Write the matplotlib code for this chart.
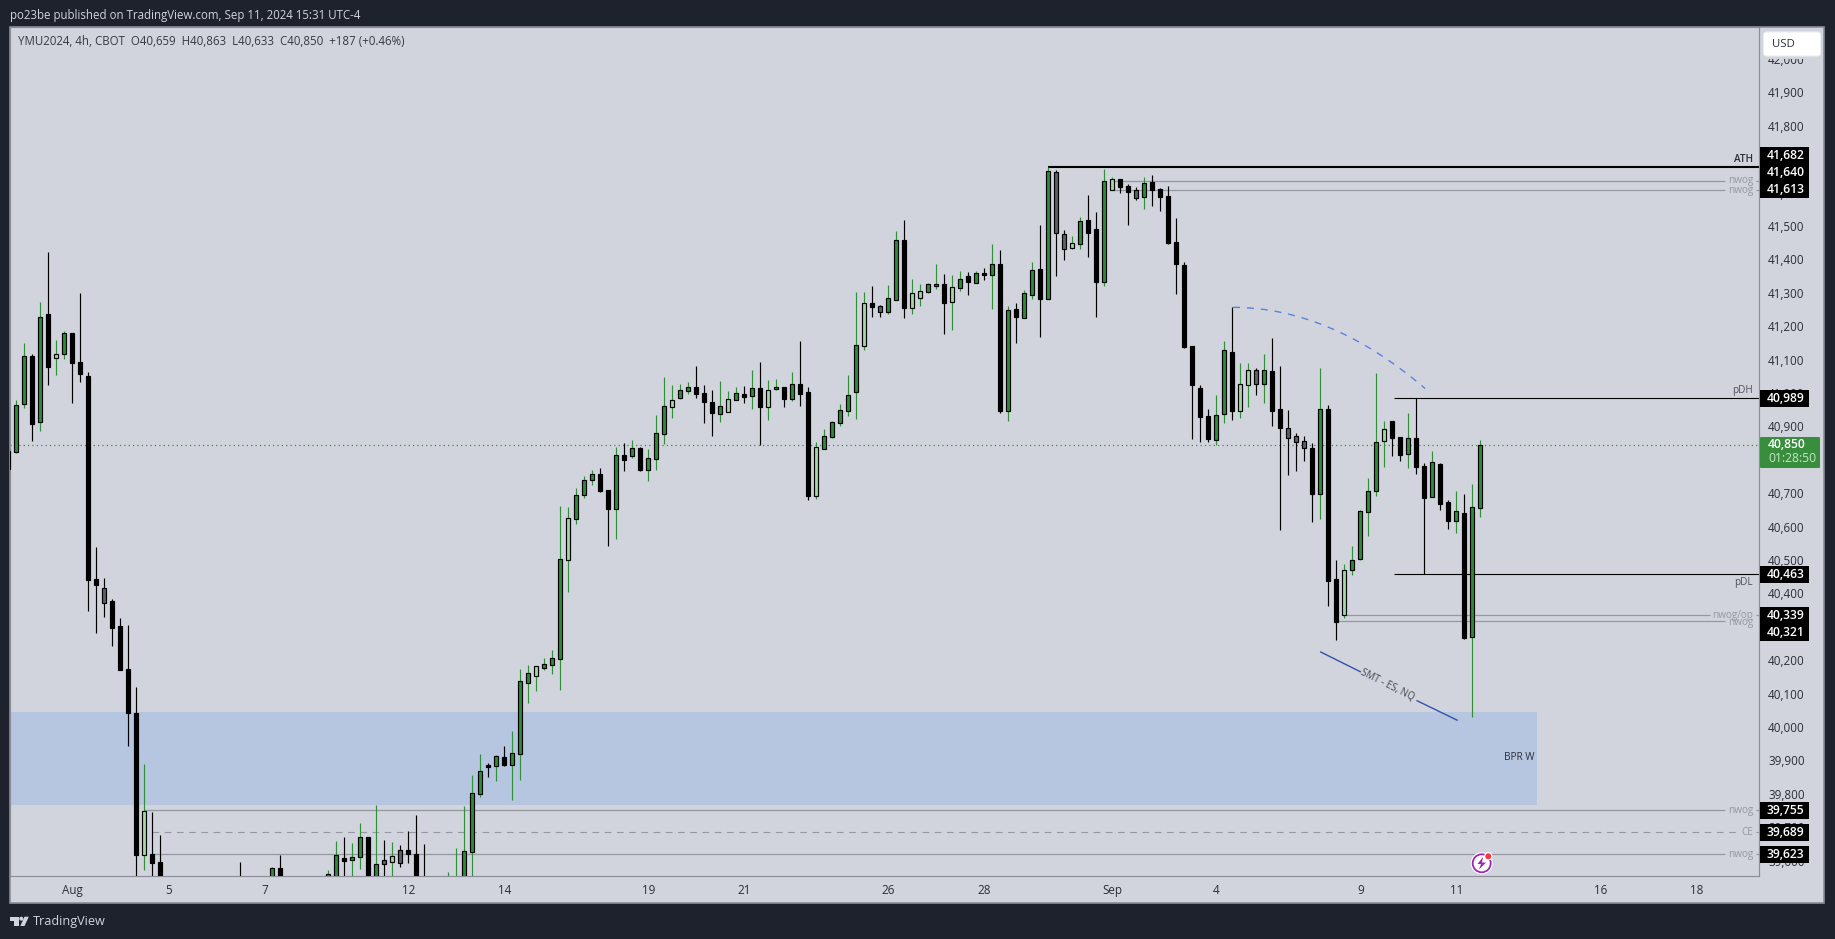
import matplotlib
matplotlib.use('Agg')
import matplotlib.pyplot as plt
from matplotlib.patches import Rectangle, Circle, Polygon, PathPatch, FancyBboxPatch
from matplotlib.path import Path
from matplotlib.transforms import ScaledTranslation

plt.rcParams['font.family'] = ['Open Sans', 'DejaVu Sans']

# Свечи: индекс бара, верх и низ тела, максимум, минимум, тип
bar_idx = list(range(-1, 19)) + [28, 32, 33] + list(range(39, 52)) + list(range(54, 184))

kinds = ("duududluddddgddddldd" + "dud" + "uuduuduglgddd"
         + "uuuuududuu" + "uluuuluuud" + "dududuuulu" + "uddduludud" + "lududdluuu"
         + "uuldguudll" + "uudlududud" + "uduudugglu" + "ddulddgudd" + "dddddduudl"
         + "lguddgggdu" + "ddluuuuldd" + "uddudduduu")

tops = [40831, 40968, 41114, 41114, 41231, 41240, 41120, 41183, 41183, 41096,
        41054, 40447, 40420, 40382, 40307, 40177, 40046, 39754, 39623, 39599,
        39520, 39581, 39581,
        39563, 39620, 39611, 39614, 39674, 39674, 39593, 39607, 39617, 39635, 39636, 39624, 39520,
        39530, 39540, 39632, 39806, 39872, 39890, 39917, 39915, 39926, 40141,
        40165, 40186, 40192, 40210, 40507, 40629, 40698, 40743, 40761, 40761,
        40713, 40818, 40818, 40839, 40839, 40809, 40884, 40965, 40983, 41012,
        41021, 41021, 41003, 40979, 40965, 40985, 41003, 41000, 41018, 41018,
        41012, 41021, 41021, 41030, 41030, 41006, 40842, 40875, 40917, 40953,
        40998, 41147, 41273, 41273, 41264, 41288, 41462, 41462, 41303, 41309,
        41330, 41330, 41330, 41321, 41345, 41354, 41363, 41363, 41390, 41390,
        41252, 41255, 41303, 41372, 41375, 41668, 41665, 41480, 41453, 41519,
        41522, 41495, 41638, 41644, 41644, 41624, 41611, 41632, 41636, 41615,
        41594, 41457, 41388, 41144, 41018, 40935, 40938, 41132, 41126, 41030,
        41072, 41072, 41072, 41069, 40958, 40901, 40877, 40860, 40839, 40956,
        40956, 40447, 40474, 40505, 40650, 40710, 40859, 40896, 40920, 40872,
        40869, 40869, 40785, 40797, 40791, 40677, 40650, 40644, 40662, 40850]

bots = [40777, 40829, 40971, 40913, 40917, 41083, 41110, 41122, 41095, 41062,
        40445, 40431, 40377, 40302, 40175, 40047, 39622, 39620, 39598, 39510,
        39490, 39500, 39500,
        39500, 39500, 39604, 39607, 39616, 39500, 39500, 39595, 39601, 39598, 39624, 39500, 39490,
        39500, 39500, 39500, 39631, 39805, 39886, 39887, 39891, 39892, 39925,
        40137, 40158, 40182, 40191, 40209, 40505, 40628, 40700, 40745, 40711,
        40658, 40658, 40805, 40817, 40774, 40775, 40808, 40883, 40963, 40990,
        41011, 41002, 40978, 40945, 40942, 40948, 40983, 40993, 40994, 40963,
        40963, 41015, 40987, 40987, 41002, 40697, 40697, 40836, 40874, 40916,
        40952, 41006, 41146, 41263, 41248, 41248, 41284, 41260, 41260, 41288,
        41308, 41326, 41275, 41278, 41320, 41338, 41335, 41359, 41359, 40952,
        40952, 41233, 41230, 41299, 41287, 41287, 41484, 41437, 41440, 41452,
        41484, 41338, 41338, 41611, 41622, 41606, 41589, 41592, 41612, 41591,
        41454, 41391, 41142, 41029, 40934, 40868, 40865, 40941, 40952, 40952,
        41027, 41030, 41032, 40952, 40900, 40870, 40859, 40841, 40703, 40703,
        40443, 40320, 40339, 40474, 40508, 40647, 40710, 40860, 40870, 40820,
        40821, 40784, 40691, 40692, 40673, 40622, 40620, 40272, 40273, 40659]

highs = [40840, 40983, 41153, 41120, 41276, 41426, 41162, 41189, 41183, 41303,
         41066, 40543, 40450, 40388, 40330, 40310, 40123, 39893, 39749, 39680,
         39599, 39586, 39620,
         39576, 39662, 39674, 39656, 39717, 39674, 39770, 39666, 39659, 39650, 39693, 39740, 39654,
         39569, 39641, 39767, 39861, 39923, 39896, 39921, 39948, 39992, 40177,
         40189, 40186, 40211, 40235, 40665, 40662, 40719, 40756, 40774, 40780,
         40713, 40843, 40854, 40863, 40843, 40836, 40938, 41051, 41027, 41030,
         41037, 41084, 41027, 41012, 41039, 41010, 41021, 41024, 41072, 41096,
         41042, 41045, 41021, 41066, 41159, 41021, 40857, 40896, 40920, 40971,
         41058, 41306, 41306, 41324, 41267, 41327, 41489, 41522, 41345, 41330,
         41333, 41390, 41360, 41357, 41369, 41366, 41369, 41378, 41450, 41432,
         41264, 41273, 41312, 41396, 41507, 41680, 41671, 41492, 41474, 41531,
         41596, 41546, 41674, 41650, 41644, 41630, 41620, 41650, 41657, 41618,
         41623, 41528, 41397, 41144, 41027, 40956, 40998, 41159, 41261, 41093,
         41093, 41078, 41120, 41168, 41084, 40953, 40886, 40877, 40856, 41078,
         40968, 40504, 40492, 40546, 40653, 40749, 41063, 40920, 40920, 40872,
         40944, 40989, 40794, 40830, 40794, 40683, 40710, 40701, 40731, 40863]

lows = [40770, 40826, 40960, 40862, 40892, 41029, 41059, 41107, 40975, 41038,
        40353, 40287, 40335, 40248, 40175, 39949, 39500, 39577, 39500, 39500,
        39450, 39480, 39480,
        39480, 39480, 39500, 39500, 39579, 39480, 39480, 39500, 39500, 39585, 39597, 39480, 39470,
        39480, 39480, 39480, 39500, 39795, 39855, 39843, 39888, 39786, 39846,
        40076, 40112, 40175, 40163, 40115, 40409, 40612, 40690, 40729, 40708,
        40546, 40567, 40771, 40810, 40771, 40741, 40774, 40852, 40930, 40986,
        41001, 40989, 40914, 40875, 40917, 40948, 40983, 40974, 40956, 40848,
        40923, 41013, 40962, 40980, 40965, 40684, 40687, 40836, 40870, 40907,
        40937, 40927, 41134, 41233, 41233, 41242, 41284, 41230, 41242, 41266,
        41305, 41317, 41182, 41194, 41311, 41299, 41335, 41344, 41257, 40946,
        40922, 41155, 41230, 41287, 41173, 41287, 41356, 41404, 41437, 41437,
        41413, 41233, 41326, 41611, 41604, 41507, 41583, 41556, 41565, 41550,
        41452, 41301, 41139, 40868, 40859, 40859, 40850, 40916, 40925, 40930,
        40963, 40999, 40975, 40907, 40595, 40760, 40771, 40802, 40619, 40628,
        40368, 40266, 40332, 40460, 40505, 40577, 40697, 40784, 40817, 40802,
        40781, 40763, 40462, 40692, 40655, 40598, 40586, 40269, 40035, 40633]

# Подписи осей
y_ticks = list(range(39600, 42001, 100))
date_pos = [7, 19, 31, 49, 61, 79, 91, 109, 121, 137, 150, 168, 180, 198, 210]
date_labels = ['Aug', '5', '7', '12', '14', '19', '21', '26', '28', 'Sep', '4', '9', '11', '16', '18']

# Уровни на графике
ath = 41682
nwog_top = [41640, 41613]
pdh = 40989
pdl = 40463
nwog_op = 40339
nwog_mid = 40321
nwog_low = [39755, 39623]
ce = 39689
last_price = 40850
bpr_zone = [40049, 39771]
price_tags = [(41682, 155.7), (41640, 172.7), (41613, 189.7), (40989, 398.3), (40463, 574.3),
              (40339, 615.7), (40321, 632.3), (39755, 810.5), (39689, 832.2), (39623, 854.3)]

BG = '#d1d4dc'
DARK = '#1e222d'
BORDER = '#8b8e97'
GREEN = '#2e8b38'
WICK_UP = '#2f9136'
LIGHT = '#a5d6a7'
GRAY = '#5d606b'
LEVEL = '#9598a1'
W, H = 1835, 939

fig = plt.figure(figsize=(W / 100, H / 100), dpi=100, facecolor=DARK)

# Основная область: x - номер бара (8 px на бар), y - цена
L, R, T, B = 10, 1759.3, 27, 876.3
ax = fig.add_axes([L / W, 1 - B / H, (R - L) / W, (B - T) / H], facecolor=BG)
ax.set_xlim((L - 16.3) / 8, (R - 16.3) / 8)
ax.set_ylim(42181.1 - 2.994 * B, 42181.1 - 2.994 * T)
xr = ax.get_xlim()[1]
xl = ax.get_xlim()[0]

ax.add_patch(Rectangle((xl, bpr_zone[1]), 190.1 - xl, bpr_zone[0] - bpr_zone[1], color='#b6c5e0', lw=0, zorder=1))

ax.hlines(last_price, xl, xr - 0.1, colors='#388e3c', linestyles=(0, (1, 2.5)), lw=0.9, zorder=2)
ax.hlines(ath, 129, xr, colors='black', lw=1.5, zorder=2)
ax.hlines([pdh, pdl], 172.2, xr, colors='black', lw=0.8, zorder=2)
for p in nwog_top:
    ax.hlines(p, 137, 213.6, colors=LEVEL, lw=0.9, zorder=2)
    ax.hlines(p, 217.5, xr, colors=LEVEL, lw=0.9, zorder=2)
ax.hlines(nwog_op, 166, 211.7, colors=LEVEL, lw=0.9, zorder=2)
ax.hlines(nwog_mid, 165, 213.6, colors=LEVEL, lw=0.9, zorder=2)
ax.hlines(nwog_op, 217.5, xr, colors=LEVEL, lw=0.9, zorder=2)
ax.hlines(nwog_low[0], 16, 213.6, colors=LEVEL, lw=0.9, zorder=2)
ax.hlines(nwog_low[1], 17, 213.6, colors=LEVEL, lw=0.9, zorder=2)
ax.hlines(nwog_low, 217.5, xr, colors=LEVEL, lw=0.9, zorder=2)
ax.hlines(ce, 17, 215, colors=LEVEL, linestyles=(0, (6, 5)), lw=0.8, zorder=2)
ax.hlines(ce, 217.5, xr, colors=LEVEL, lw=0.8, zorder=2)

# Дуга и линия SMT
arc = Path([(152.1, 41261), (164.3, 41260), (176.1, 41018)], [Path.MOVETO, Path.CURVE3, Path.CURVE3])
ax.add_patch(PathPatch(arc, fc='none', ec='#5b80e6', lw=1.0, ls=(0, (5, 5)), zorder=5))
ax.plot([163.05, 168], [40229, 40170], color='#3353a8', lw=1.0, zorder=5)
ax.plot([175.1, 180.1], [40083, 40025], color='#3353a8', lw=1.0, zorder=5)
ax.text(171.4, 40130, 'SMT - ES, NQ', rotation=-26.5, rotation_mode='anchor', ha='center', va='center',
        fontsize=7.0, color='#434651', zorder=5)

# Свечи
for i, top, bot, hi, lo, k in zip(bar_idx, tops, bots, highs, lows, kinds):
    wick = 'black' if k in 'dg' else WICK_UP
    ax.vlines(i, lo, hi, colors=wick, lw=0.85, zorder=3)
    face = {'u': GREEN, 'l': LIGHT, 'd': 'black', 'g': GRAY}[k]
    ax.bar(i, top - bot, bottom=bot, width=0.5, color=face, edgecolor='black', lw=0.85, zorder=4)

ax.yaxis.tick_right()
ax.set_yticks(y_ticks)
ax.set_yticklabels([f'{v:,}' for v in y_ticks], fontsize=8.4, color='#2a2e39')
ax.set_xticks(date_pos)
ax.set_xticklabels(date_labels, fontsize=8.4, color='#2a2e39')
ax.tick_params(axis='y', length=0, pad=6.3)
ax.tick_params(axis='x', length=0, pad=5.6)
shift_up = ScaledTranslation(0, 1.5 / 100, fig.dpi_scale_trans)
for t in ax.get_yticklabels():
    t.set_transform(t.get_transform() + shift_up)
for s in ax.spines.values():
    s.set_color(BORDER)
    s.set_linewidth(0.85)

# Полотно с координатами в пикселях для подписей и рамки
ov = fig.add_axes([0, 0, 1, 1], facecolor='none', zorder=10)
ov.set_xlim(0, W)
ov.set_ylim(H, 0)
ov.axis('off')

# Рамка и нижняя/правая полосы
under = fig.add_axes([0, 0, 1, 1], facecolor='none', zorder=-1)
under.set_xlim(0, W)
under.set_ylim(H, 0)
under.axis('off')
under.add_patch(Rectangle((L, T), 1824 - L, 903.3 - T, fc=BG, ec=BORDER, lw=1.2))

ov.text(10, 15, 'po23be published on TradingView.com, Sep 11, 2024 15:31 UTC-4', fontsize=8.3, color='#d1d4dc',
        ha='left', va='center')
ov.text(18, 41.8, 'YMU2024, 4h, CBOT  O40,659  H40,863  L40,633  C40,850  +187 (+0.46%)', fontsize=8.3,
        color='#363a45', ha='left', va='center')

# USD
ov.add_patch(Rectangle((1760.5, 28), 62.5, 30.5, fc=BG, ec='none'))
ov.add_patch(FancyBboxPatch((1765, 33.5), 54, 21, boxstyle='round,pad=1.5,rounding_size=3', fc='white', ec='#eceef2', lw=0.8))
ov.text(1772, 44.5, 'USD', fontsize=8.2, color='#2a2e39', ha='left', va='center')

# Ценовые метки
for p, yc in price_tags:
    ov.add_patch(Rectangle((1760, yc - 8.5), 49, 17, fc='black', ec='none'))
    ov.text(1785.3, yc, f'{p:,}', fontsize=8.7, color='white', ha='center', va='center', fontweight='semibold')
ov.add_patch(FancyBboxPatch((1760, 437), 60, 31, boxstyle='round,pad=0,rounding_size=1', fc='#388e3c', ec='none'))
ov.text(1768, 444.5, f'{last_price:,}', fontsize=8.7, color='white', ha='left', va='center', fontweight='semibold')
ov.text(1768, 459, '01:28:50', fontsize=8.7, color='#c8e6c9', ha='left', va='center')

# Подписи уровней
for txt, x, y, col, fw in [('ATH', 1753, 159, '#2a2e39', 'semibold'), ('nwog', 1753, 181, LEVEL, 'normal'),
                           ('nwog', 1753, 190, LEVEL, 'normal'), ('pDH', 1753, 390, '#50535e', 'normal'),
                           ('pDL', 1753, 583, '#50535e', 'normal'), ('nwog/op', 1753, 615.5, LEVEL, 'normal'),
                           ('nwog', 1753, 622, LEVEL, 'normal'), ('nwog', 1753, 811, LEVEL, 'normal'),
                           ('CE', 1753, 832.5, LEVEL, 'normal'), ('nwog', 1753, 855, LEVEL, 'normal'),
                           ('BPR W', 1534, 757.5, '#2a2e39', 'normal')]:
    ov.text(x, y, txt, fontsize=7.2, color=col, ha='right', va='center', fontweight=fw)

# Значок
ov.add_patch(Circle((1481.7, 863.3), 11, fc='white', ec='none'))
ov.add_patch(Circle((1481.7, 863.3), 9, fc='none', ec='#9c27b0', lw=1.3))
ov.add_patch(Polygon([(1483, 857), (1477.5, 864), (1481, 864), (1479, 869.5), (1486, 862.5), (1482, 862.5)], fc='#9c27b0', ec='none'))
ov.add_patch(Circle((1488.3, 856.3), 4.2, fc='white', ec='none'))
ov.add_patch(Circle((1488.3, 856.3), 3, fc='#f23645', ec='none'))

# Логотип TradingView
ov.add_patch(Polygon([(10, 916.7), (18.5, 916.7), (18.5, 926), (14, 926), (14, 920.5), (10, 920.5)], fc='#d1d4dc', ec='none'))
ov.add_patch(Circle((21.3, 918.7), 2, fc='#d1d4dc', ec='none'))
ov.add_patch(Polygon([(24.5, 916.7), (28.8, 916.7), (24.5, 926), (20.3, 926)], fc='#d1d4dc', ec='none'))
ov.text(33, 921.5, 'TradingView', fontsize=9.1, color='#d1d4dc', ha='left', va='center')

assert len(bar_idx) == len(tops) == len(bots) == len(highs) == len(lows) == len(kinds)
fig.savefig('out.png', dpi=100, facecolor=DARK)
